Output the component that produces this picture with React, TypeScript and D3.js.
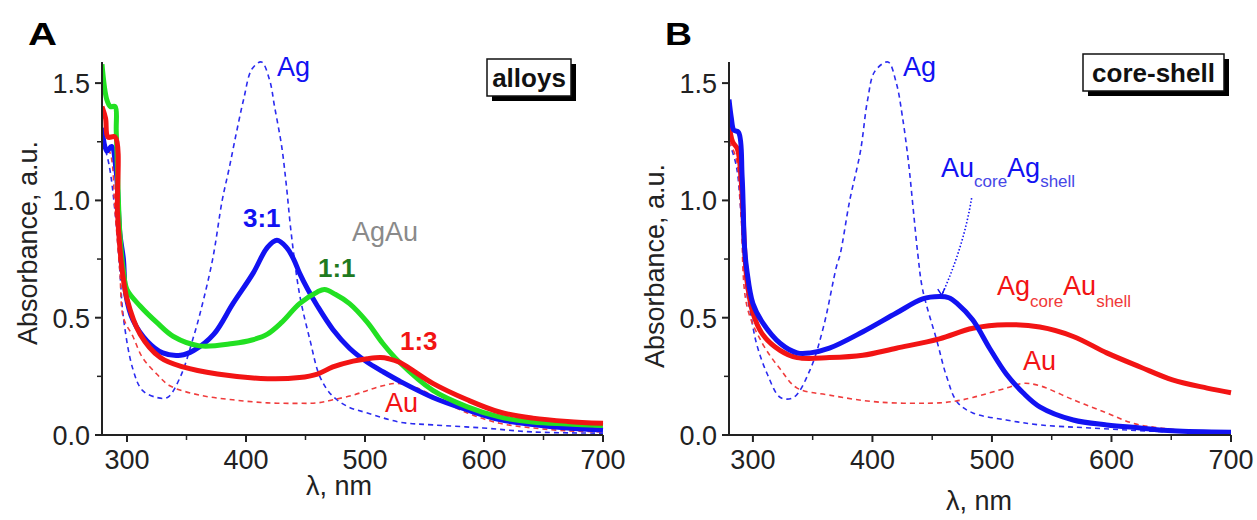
import React from 'react';
import * as d3 from 'd3';

const FONT = "'Liberation Sans', Arial, Helvetica, sans-serif";

// ---------- Panel A (alloys) ----------
const aAgWl = [280, 285, 290, 294, 297, 305, 313, 325, 334, 345, 356, 362, 372, 380, 386, 392, 398, 405, 413, 420, 424, 430, 434, 438, 445, 454, 462, 472, 486, 502, 529, 557, 599, 641, 700];
const aAgAbs = [1.25, 1.15, 0.95, 0.7, 0.5, 0.28, 0.19, 0.16, 0.16, 0.25, 0.42, 0.53, 0.75, 1.0, 1.14, 1.29, 1.43, 1.56, 1.59, 1.51, 1.4, 1.23, 1.06, 0.86, 0.6, 0.4, 0.25, 0.17, 0.12, 0.094, 0.055, 0.043, 0.03, 0.013, 0.008];

const aAuWl = [280, 286, 290, 294, 297, 305, 313, 325, 336, 361, 389, 418, 445, 460, 473, 490, 502, 515, 527, 544, 563, 586, 613, 641, 670, 700];
const aAuAbs = [1.25, 1.2, 0.95, 0.7, 0.5, 0.42, 0.33, 0.26, 0.21, 0.17, 0.15, 0.137, 0.135, 0.137, 0.15, 0.17, 0.19, 0.21, 0.22, 0.2, 0.15, 0.094, 0.05, 0.03, 0.018, 0.013];

const a31Wl = [279, 283, 287, 291, 294, 297, 299, 305, 317, 330, 345, 356, 373, 389, 406, 418, 426, 434, 440, 445, 452, 460, 473, 487, 502, 515, 529, 557, 586, 613, 641, 670, 700];
const a31Abs = [1.31, 1.21, 1.23, 1.12, 0.86, 0.75, 0.6, 0.49, 0.4, 0.35, 0.34, 0.36, 0.43, 0.56, 0.69, 0.8, 0.83, 0.8, 0.75, 0.69, 0.62, 0.55, 0.45, 0.37, 0.31, 0.27, 0.23, 0.16, 0.107, 0.066, 0.045, 0.03, 0.021];

const a11Wl = [279, 283, 286, 290, 291, 294, 297, 300, 311, 325, 339, 361, 389, 405, 418, 430, 445, 460, 466, 475, 487, 502, 515, 529, 557, 586, 613, 641, 670, 700];
const a11Abs = [1.58, 1.43, 1.4, 1.4, 1.29, 0.86, 0.7, 0.62, 0.55, 0.48, 0.42, 0.38, 0.39, 0.405, 0.43, 0.48, 0.56, 0.61, 0.62, 0.6, 0.56, 0.48, 0.39, 0.31, 0.19, 0.12, 0.077, 0.055, 0.047, 0.04];

const a13Wl = [279, 282, 284, 290, 292, 294, 296, 300, 311, 328, 347, 376, 418, 445, 460, 473, 490, 502, 513, 520, 529, 557, 586, 613, 641, 670, 700];
const a13Abs = [1.4, 1.35, 1.27, 1.27, 0.95, 0.8, 0.7, 0.58, 0.43, 0.33, 0.29, 0.26, 0.24, 0.245, 0.26, 0.29, 0.315, 0.325, 0.33, 0.325, 0.31, 0.22, 0.15, 0.098, 0.072, 0.058, 0.05];

// ---------- Panel B (core-shell) ----------
const bAgWl = [280, 286, 290, 295, 298, 303, 312, 323, 334, 348, 359, 370, 373, 381, 390, 396, 402, 413, 420, 425, 430, 434, 438, 442, 454, 462, 471, 484, 512, 540, 582, 640, 700];
const bAgAbs = [1.25, 1.15, 0.95, 0.6, 0.52, 0.39, 0.26, 0.16, 0.16, 0.28, 0.46, 0.72, 0.77, 1.0, 1.21, 1.43, 1.55, 1.59, 1.5, 1.36, 1.17, 0.97, 0.77, 0.62, 0.4, 0.25, 0.14, 0.094, 0.064, 0.043, 0.03, 0.015, 0.01];

const bAuWl = [280, 286, 290, 295, 308, 323, 337, 364, 406, 456, 470, 484, 512, 526, 540, 568, 596, 618, 640, 670, 700];
const bAuAbs = [1.25, 1.18, 0.95, 0.55, 0.39, 0.28, 0.2, 0.17, 0.14, 0.137, 0.145, 0.16, 0.2, 0.22, 0.21, 0.15, 0.094, 0.05, 0.03, 0.018, 0.012];

const bAuAgWl = [280, 282, 284, 288, 291, 293, 295, 300, 308, 323, 337, 348, 364, 392, 420, 442, 456, 464, 471, 484, 498, 512, 526, 540, 568, 596, 624, 651, 700];
const bAuAgAbs = [1.43, 1.35, 1.3, 1.29, 1.1, 0.8, 0.7, 0.56, 0.48, 0.39, 0.35, 0.35, 0.37, 0.44, 0.52, 0.58, 0.59, 0.585, 0.56, 0.49, 0.37, 0.26, 0.18, 0.12, 0.064, 0.043, 0.03, 0.018, 0.012];

const bAgAuWl = [280, 283, 287, 290, 293, 295, 300, 308, 323, 337, 364, 392, 420, 456, 484, 512, 540, 568, 596, 624, 651, 680, 700];
const bAgAuAbs = [1.33, 1.25, 1.22, 1.1, 0.8, 0.66, 0.52, 0.43, 0.36, 0.33, 0.33, 0.34, 0.37, 0.41, 0.455, 0.47, 0.46, 0.42, 0.35, 0.29, 0.235, 0.2, 0.18];

// connector (panel B) from label to curve, data coords
const connWl = [483, 458];
const connAbs = [1.01, 0.596];

// ---------- axes ----------
const yTicks = [0, 0.5, 1.0, 1.5];
const yTickLabels = ['0.0', '0.5', '1.0', '1.5'];
const yMinor = [0.25, 0.75, 1.25];
const xTicks = [300, 400, 500, 600, 700];
const xMinor = [350, 450, 550, 650];
const yDomain: [number, number] = [0, 1.59];

const BLUE = '#1212f2';
const RED = '#f21414';
const GREEN = '#22e022';
const DBLUE = '#2b2bf0';
const DRED = '#f03c3c';
const AXIS = '#222';

type Pt = [number, number];
const zip = (w: number[], a: number[]): Pt[] => w.map((x, i) => [x, a[i]]);

interface Series { pts: Pt[]; color: string; dashed?: boolean; }

function Panel(props: {
  id: string; xDomain: [number, number]; xRange: [number, number];
  series: Series[]; ylabelCy: number; xlabelX: number; xlabelY: number;
  children?: (xs: d3.ScaleLinear<number, number>, ys: d3.ScaleLinear<number, number>) => React.ReactNode;
}) {
  const { id, xDomain, xRange, series, ylabelCy, xlabelX, xlabelY } = props;
  const xs = d3.scaleLinear().domain(xDomain).range(xRange);
  const ys = d3.scaleLinear().domain(yDomain).range([435, 62]);
  const line = d3.line<Pt>().x(d => xs(d[0])).y(d => ys(d[1])).curve(d3.curveCatmullRom.alpha(0.5));
  const [x0, x1] = xRange;
  const y0 = ys(0);
  const yTop = ys(yDomain[1]);
  return (
    <g>
      <defs>
        <clipPath id={`clip-${id}`}>
          <rect x={x0} y={yTop - 6} width={x1 - x0 + 3} height={y0 - yTop + 6} />
        </clipPath>
      </defs>
      <g clipPath={`url(#clip-${id})`}>
        {series.filter(s => s.dashed).map((s, i) => (
          <path key={'d' + i} d={line(s.pts) || ''} fill="none" stroke={s.color} strokeWidth={1.6} strokeDasharray="5,4" />
        ))}
        {series.filter(s => !s.dashed).map((s, i) => (
          <path key={'s' + i} d={line(s.pts) || ''} fill="none" stroke={s.color} strokeWidth={5} strokeLinejoin="round" />
        ))}
      </g>
      <line x1={x0} x2={x0} y1={yTop} y2={y0} stroke={AXIS} strokeWidth={2} />
      <line x1={x0} x2={x1} y1={y0} y2={y0} stroke={AXIS} strokeWidth={2} />
      {yTicks.map((t, i) => (
        <g key={'yt' + t}>
          <line x1={x0 - 7} x2={x0} y1={ys(t)} y2={ys(t)} stroke={AXIS} strokeWidth={2} />
          <text x={x0 - 12} y={ys(t) + 10} textAnchor="end" fontSize={27} fontFamily={FONT} fill={AXIS}>{yTickLabels[i]}</text>
        </g>
      ))}
      {yMinor.map(t => (
        <line key={'ym' + t} x1={x0 - 5} x2={x0} y1={ys(t)} y2={ys(t)} stroke={AXIS} strokeWidth={1.5} />
      ))}
      {xTicks.map(t => (
        <g key={'xt' + t}>
          <line x1={xs(t)} x2={xs(t)} y1={y0} y2={y0 + 7} stroke={AXIS} strokeWidth={2} />
          <text x={xs(t)} y={469} textAnchor="middle" fontSize={27} fontFamily={FONT} fill={AXIS}>{t}</text>
        </g>
      ))}
      {xMinor.map(t => (
        <line key={'xm' + t} x1={xs(t)} x2={xs(t)} y1={y0} y2={y0 + 5} stroke={AXIS} strokeWidth={1.5} />
      ))}
      <text x={xlabelX} y={xlabelY} textAnchor="middle" fontSize={27} fontFamily={FONT} fill={AXIS}>λ, nm</text>
      <text transform={`translate(${x0 - 65},${ylabelCy}) rotate(-90)`} textAnchor="middle" fontSize={27} fontFamily={FONT} fill={AXIS}>Absorbance, a.u.</text>
      {props.children ? props.children(xs, ys) : null}
    </g>
  );
}

function BoxLabel({ x, y, w, h, text }: { x: number; y: number; w: number; h: number; text: string }) {
  return (
    <g>
      <rect x={x + 5} y={y + 5} width={w} height={h} fill="#000" />
      <rect x={x} y={y} width={w} height={h} fill="#fff" stroke="#111" strokeWidth={1.5} />
      <text x={x + w / 2} y={y + h - 9} textAnchor="middle" fontSize={26} fontWeight="bold" fontFamily={FONT} fill="#111">{text}</text>
    </g>
  );
}

export default function App() {
  const seriesA: Series[] = [
    { pts: zip(aAgWl, aAgAbs), color: DBLUE, dashed: true },
    { pts: zip(aAuWl, aAuAbs), color: DRED, dashed: true },
    { pts: zip(a31Wl, a31Abs), color: BLUE },
    { pts: zip(a11Wl, a11Abs), color: GREEN },
    { pts: zip(a13Wl, a13Abs), color: RED },
  ];
  const seriesB: Series[] = [
    { pts: zip(bAgWl, bAgAbs), color: DBLUE, dashed: true },
    { pts: zip(bAuWl, bAuAbs), color: DRED, dashed: true },
    { pts: zip(bAgAuWl, bAgAuAbs), color: RED },
    { pts: zip(bAuAgWl, bAuAgAbs), color: BLUE },
  ];
  return (
    <svg width={1257} height={520} style={{ position: 'absolute', left: 0, top: 0, background: '#fff' }} fontFamily={FONT}>
      <rect x={0} y={0} width={1257} height={520} fill="#fff" />
      {/* Panel A */}
      <text x={28} y={45} fontSize={32} fontWeight="bold" fontFamily={FONT} textLength={29} lengthAdjust="spacingAndGlyphs" fill="#000">A</text>
      <Panel id="A" xDomain={[279, 700]} xRange={[102, 603]} series={seriesA} ylabelCy={243} xlabelX={339} xlabelY={495} />
      <text x={277} y={76} fontSize={27} fontFamily={FONT} fill={BLUE}>Ag</text>
      <text x={243} y={227} fontSize={26} fontWeight="bold" fontFamily={FONT} fill={BLUE}>3:1</text>
      <text x={352} y={241} fontSize={27} fontFamily={FONT} fill="#8a8a8a">AgAu</text>
      <text x={318} y={277} fontSize={26} fontWeight="bold" fontFamily={FONT} fill="#1f7a1f">1:1</text>
      <text x={400} y={350} fontSize={26} fontWeight="bold" fontFamily={FONT} fill={RED}>1:3</text>
      <text x={385} y={412} fontSize={27} fontFamily={FONT} fill={RED}>Au</text>
      <BoxLabel x={487} y={59} w={84} h={37} text="alloys" />

      {/* Panel B */}
      <text x={665} y={45} fontSize={32} fontWeight="bold" fontFamily={FONT} textLength={27} lengthAdjust="spacingAndGlyphs" fill="#000">B</text>
      <Panel id="B" xDomain={[280, 700]} xRange={[729, 1231]} series={seriesB} ylabelCy={266} xlabelX={979} xlabelY={510}>
        {(xs, ys) => (
          <g>
            <path d={`M${xs(connWl[0])},${ys(connAbs[0])} Q${xs(connWl[0]) - 8},${(ys(connAbs[0]) + ys(connAbs[1])) / 2} ${xs(connWl[1])},${ys(connAbs[1])}`}
              fill="none" stroke={BLUE} strokeWidth={1.6} strokeDasharray="1.5,2" />
            <path d={`M${xs(connWl[1]) - 4},${ys(connAbs[1]) - 6} L${xs(connWl[1])},${ys(connAbs[1])} L${xs(connWl[1]) + 3},${ys(connAbs[1]) - 7}`}
              fill="none" stroke={BLUE} strokeWidth={1.4} />
          </g>
        )}
      </Panel>
      <text x={903} y={76} fontSize={27} fontFamily={FONT} fill={BLUE}>Ag</text>
      <text x={941} y={177} fontSize={27} fontFamily={FONT} fill={BLUE}>
        Au<tspan fontSize={17} dy={10} fill="#4646e6">core</tspan><tspan dy={-10} fontSize={27}>Ag</tspan><tspan fontSize={17} dy={10} fill="#4646e6">shell</tspan>
      </text>
      <text x={997} y={295} fontSize={27} fontFamily={FONT} fill={RED}>
        Ag<tspan fontSize={17} dy={12} fill="#f03838">core</tspan><tspan dy={-12} fontSize={27}>Au</tspan><tspan fontSize={17} dy={12} fill="#f03838">shell</tspan>
      </text>
      <text x={1023} y={370} fontSize={27} fontFamily={FONT} fill={RED}>Au</text>
      <BoxLabel x={1083} y={54} w={141} h={37} text="core-shell" />
    </svg>
  );
}
